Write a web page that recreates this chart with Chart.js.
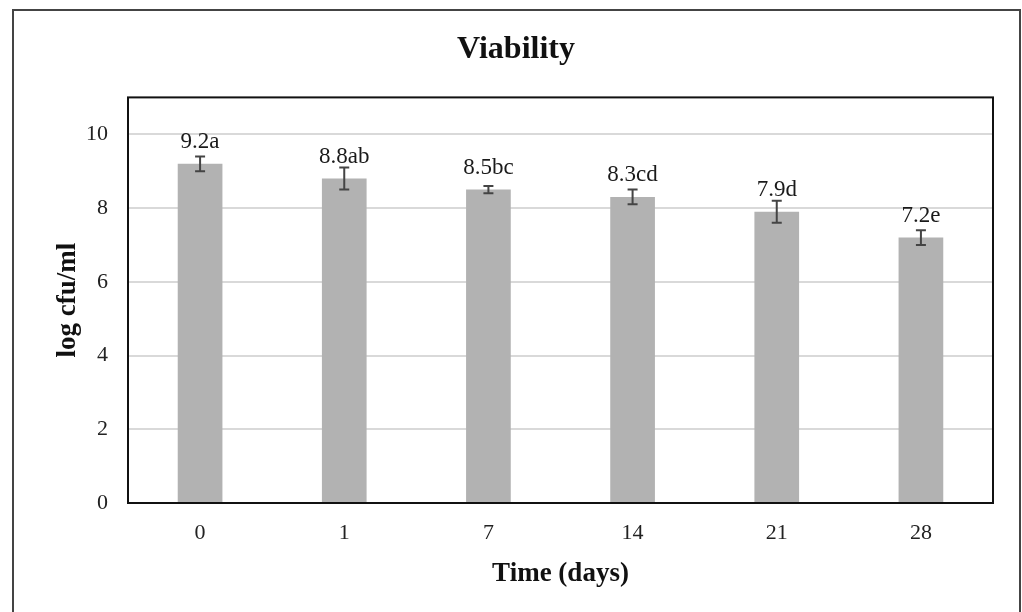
<!DOCTYPE html>
<html>
<head>
<meta charset="utf-8">
<script src="https://cdn.jsdelivr.net/npm/chart.js@4"></script>
<style>
  body { margin: 0; background: #fff; }
  canvas { display: block; }
</style>
</head>
<body>
<canvas id="mycanvas" width="1022" height="612"></canvas>
<script>
// data
var days = ['0', '1', '7', '14', '21', '28'];
var viability = [9.2, 8.8, 8.5, 8.3, 7.9, 7.2];
var errors = [0.2, 0.3, 0.1, 0.2, 0.3, 0.2];
var letters = ['a', 'ab', 'bc', 'cd', 'd', 'e'];
var yTicks = [0, 2, 4, 6, 8, 10];

var serif = '"Liberation Serif", "Times New Roman", serif';

// outer frame + box round the plot area
var framePlugin = {
  id: 'frame',
  beforeDraw: function(chart) {
    var ctx = chart.ctx;
    ctx.save();
    ctx.fillStyle = '#fff';
    ctx.fillRect(0, 0, chart.width, chart.height);
    ctx.strokeStyle = '#444';
    ctx.lineWidth = 2;
    ctx.strokeRect(13, 10, 1007, 640);
    ctx.restore();
  },
  afterDraw: function(chart) {
    var a = chart.chartArea;
    var ctx = chart.ctx;
    ctx.save();
    ctx.strokeStyle = '#111';
    ctx.lineWidth = 2;
    ctx.strokeRect(a.left, a.top, a.right - a.left, a.bottom - a.top);
    ctx.restore();
  }
};

// error bars and value labels
var errorPlugin = {
  id: 'errbars',
  afterDatasetsDraw: function(chart) {
    var ctx = chart.ctx;
    var y = chart.scales.y;
    var meta = chart.getDatasetMeta(0);
    ctx.save();
    for (var i = 0; i < viability.length; i++) {
      var x = meta.data[i].x;
      var top = y.getPixelForValue(viability[i] + errors[i]);
      var bot = y.getPixelForValue(viability[i] - errors[i]);
      ctx.strokeStyle = '#444';
      ctx.lineWidth = 2;
      ctx.beginPath();
      ctx.moveTo(x, top); ctx.lineTo(x, bot);
      ctx.moveTo(x - 5, top); ctx.lineTo(x + 5, top);
      ctx.moveTo(x - 5, bot); ctx.lineTo(x + 5, bot);
      ctx.stroke();

      ctx.fillStyle = '#1a1a1a';
      ctx.font = '23px ' + serif;
      ctx.textAlign = 'center';
      ctx.textBaseline = 'alphabetic';
      ctx.fillText(viability[i].toFixed(1) + letters[i], x, meta.data[i].y - 16);
    }
    ctx.restore();
  }
};

var ctx = document.getElementById('mycanvas');
var barGraph = new Chart(ctx, {
  type: 'bar',
  data: {
    labels: days,
    datasets: [{
      label: 'log cfu/ml',
      data: viability,
      backgroundColor: '#b2b2b2',
      borderWidth: 0,
      barPercentage: 0.31,
      categoryPercentage: 1.0
    }]
  },
  options: {
    responsive: false,
    animation: false,
    layout: { padding: { left: 39, right: 29, top: 13, bottom: 0 } },
    plugins: {
      legend: { display: false },
      tooltip: { enabled: false },
      title: {
        display: true,
        text: 'Viability',
        color: '#111',
        font: { family: serif, size: 32, weight: 'bold' },
        padding: { top: 18, bottom: 28 }
      }
    },
    scales: {
      x: {
        grid: { display: false, drawTicks: false },
        border: { display: false },
        ticks: { color: '#222', font: { family: serif, size: 22 }, padding: 17 },
        title: {
          display: true,
          text: 'Time (days)',
          color: '#111',
          font: { family: serif, size: 27, weight: 'bold' },
          padding: { top: 0, bottom: 22 }
        },
        afterFit: function(scale) { scale.height = 109; }
      },
      y: {
        min: 0,
        max: 11,
        grid: { color: '#d9d9d9', lineWidth: 2, drawTicks: false },
        border: { display: false },
        ticks: { stepSize: 2, color: '#222', font: { family: serif, size: 22 }, padding: 20 },
        afterBuildTicks: function(scale) {
          scale.ticks = yTicks.map(function(v) { return { value: v }; });
        },
        title: {
          display: true,
          text: 'log cfu/ml',
          color: '#111',
          font: { family: serif, size: 27, weight: 'bold' },
          padding: { top: 13, bottom: 0 }
        },
        afterFit: function(scale) { scale.width = 89; }
      }
    }
  },
  plugins: [framePlugin, errorPlugin]
});
</script>
</body>
</html>
